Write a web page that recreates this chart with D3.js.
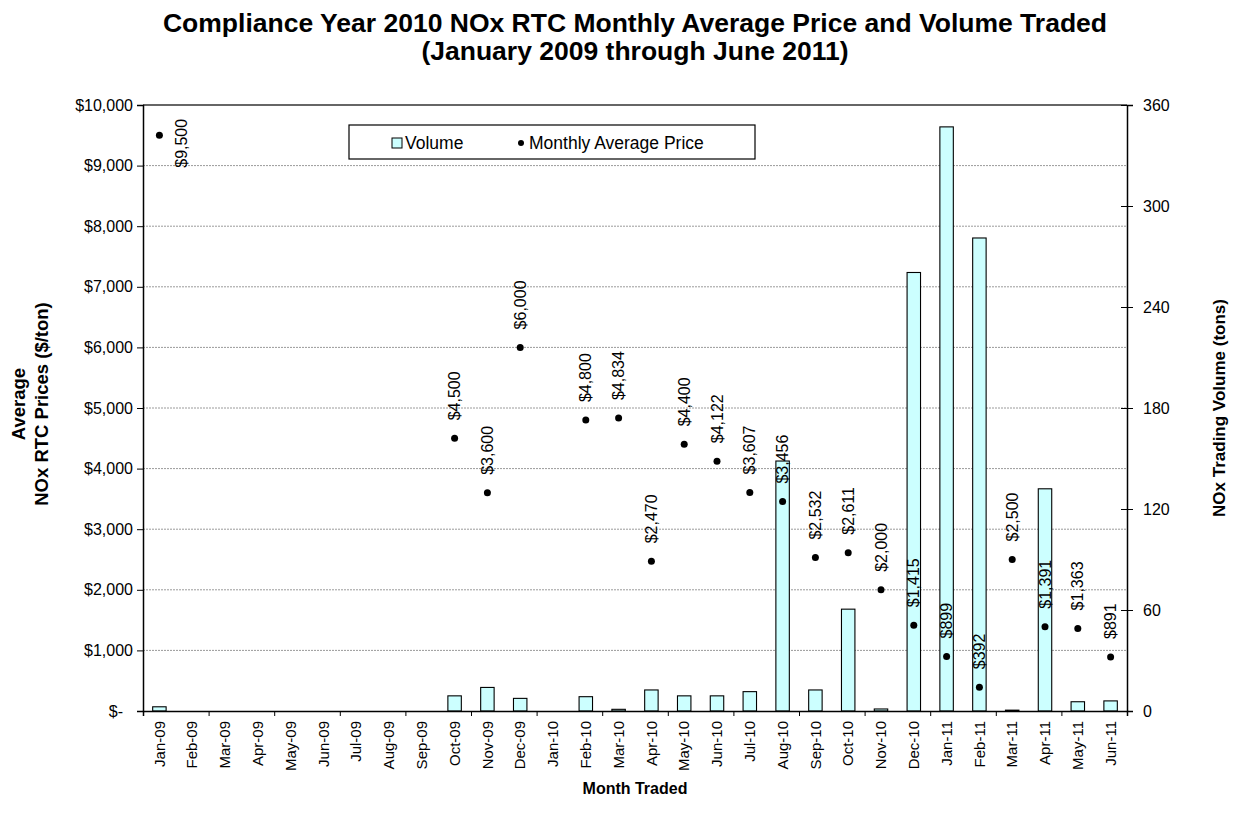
<!DOCTYPE html>
<html><head><meta charset="utf-8">
<script src="https://cdn.jsdelivr.net/npm/d3@7"></script>
<style>
html,body{margin:0;padding:0;background:#fff;}
svg{display:block;font-family:"Liberation Sans",Arial,sans-serif;}
</style></head>
<body><svg id="c" width="1239" height="826"></svg>
<script>
const months = ["Jan-09","Feb-09","Mar-09","Apr-09","May-09","Jun-09","Jul-09","Aug-09","Sep-09","Oct-09","Nov-09","Dec-09",
"Jan-10","Feb-10","Mar-10","Apr-10","May-10","Jun-10","Jul-10","Aug-10","Sep-10","Oct-10","Nov-10","Dec-10",
"Jan-11","Feb-11","Mar-11","Apr-11","May-11","Jun-11"];
const volume = [2.5,0,0,0,0,0,0,0,0,9,14,7.5,0,8.5,1,12.5,9,9,11.5,148.5,12.5,60.5,1.2,260.5,347,281,0.5,132,5.5,6];
const price = [9500,null,null,null,null,null,null,null,null,4500,3600,6000,null,4800,4834,2470,4400,4122,3607,3456,2532,2611,2000,1415,899,392,2500,1391,1363,891];
const priceTicks = [0,1000,2000,3000,4000,5000,6000,7000,8000,9000,10000];
const volumeTicks = [0,60,120,180,240,300,360];
const titleLines = ["Compliance Year 2010 NOx RTC Monthly Average Price and Volume Traded","(January 2009 through June 2011)"];
const leftTitle = ["Average","NOx RTC Prices ($/ton)"];
const rightTitle = "NOx Trading Volume (tons)";
const xTitle = "Month Traded";
const legendItems = ["Volume","Monthly Average Price"];

const svg = d3.select("#c");
const L=143, R=1127, T=105, B=711;
const x = d3.scaleBand().domain(months).range([L,R]).paddingInner(0.59).paddingOuter(0.295);
const xb = d3.scaleLinear().domain([0,months.length]).range([L,R]);
const yL = d3.scaleLinear().domain([0,10000]).range([B,T]);
const yR = d3.scaleLinear().domain([0,360]).range([B,T]);
const cx = d => x(d)+x.bandwidth()/2;

// title
svg.append("g").selectAll("text").data(titleLines).join("text")
  .attr("x",635).attr("y",(d,i)=>32+i*28).attr("text-anchor","middle")
  .attr("font-size",26.5).attr("font-weight","bold").text(d=>d);

// gridlines
svg.append("g").selectAll("line").data(priceTicks.filter(v=>v>0&&v<10000)).join("line")
  .attr("x1",L).attr("x2",R).attr("y1",d=>yL(d)).attr("y2",d=>yL(d))
  .attr("stroke","#9a9a9a").attr("stroke-width",1).attr("stroke-dasharray","2,1");
// top border
svg.append("line").attr("x1",L).attr("x2",R).attr("y1",yL(10000)).attr("y2",yL(10000))
  .attr("stroke","#333").attr("stroke-width",1.5);

// bars
svg.append("g").selectAll("rect").data(months).join("rect")
  .attr("x",d=>x(d)).attr("width",x.bandwidth())
  .attr("y",(d,i)=>yR(volume[i])).attr("height",(d,i)=>B-yR(volume[i]))
  .attr("fill","#ccffff").attr("stroke","#000").attr("stroke-width",1.1)
  .style("display",(d,i)=>volume[i]>0?null:"none");

// axes
const gL = svg.append("g").attr("transform",`translate(${L},0)`)
  .call(d3.axisLeft(yL).tickValues(priceTicks).tickSize(6).tickPadding(4)
    .tickFormat(d=>d===0?"$-":"$"+d3.format(",")(d)));
gL.selectAll("text").attr("font-size",16).attr("fill","#000").attr("font-family","Liberation Sans, Arial")
  .attr("dx",d=>d===0?-10:0);
gL.selectAll("line").attr("stroke","#000");
gL.select(".domain").attr("stroke","#000").attr("stroke-width",1.5);

const gR = svg.append("g").attr("transform",`translate(${R},0)`)
  .call(d3.axisRight(yR).tickValues(volumeTicks).tickSize(6).tickPadding(10));
gR.selectAll("text").attr("font-size",16).attr("fill","#000").attr("font-family","Liberation Sans, Arial");
gR.selectAll(".tick line").attr("x1",-6).attr("stroke","#000");
gR.select(".domain").attr("stroke","#000").attr("stroke-width",1.5);

const gB = svg.append("g").attr("transform",`translate(0,${B})`)
  .call(d3.axisBottom(xb).tickValues(d3.range(0,months.length+1,2)).tickSize(5).tickFormat(""));
gB.selectAll("line").attr("stroke","#000");
gB.select(".domain").attr("stroke","#000").attr("stroke-width",1.5);

const gX = svg.append("g").attr("transform",`translate(0,${B})`)
  .call(d3.axisBottom(x).tickSize(0).tickPadding(0));
gX.select(".domain").remove();
gX.selectAll("text").attr("font-size",15).attr("fill","#000").attr("font-family","Liberation Sans, Arial")
  .attr("transform","rotate(-90)").attr("text-anchor","end")
  .attr("x",-10).attr("y",0).attr("dy","0.35em");

// price dots
const pts = months.map((m,i)=>({m,v:price[i]})).filter(d=>d.v!=null);
svg.append("g").selectAll("circle").data(pts).join("circle")
  .attr("cx",d=>cx(d.m)).attr("cy",d=>yL(d.v)).attr("r",3.5).attr("fill","#000");

// price labels
svg.append("g").selectAll("text").data(pts).join("text")
  .attr("font-size",16).attr("fill","#000")
  .attr("transform",d=>{
    const px=cx(d.m), py=yL(d.v);
    if (py-18-50 < T) return `translate(${px+22},${py+8}) rotate(-90)`;
    return `translate(${px},${py-18}) rotate(-90)`;
  })
  .attr("text-anchor",d=> (yL(d.v)-68<T)?"middle":"start")
  .attr("dy","0.35em")
  .text(d=>"$"+d3.format(",")(d.v));

// legend
const lg = svg.append("g");
lg.append("rect").attr("x",349).attr("y",125).attr("width",406).attr("height",34)
  .attr("fill","#fff").attr("stroke","#000").attr("stroke-width",1.2);
lg.append("rect").attr("x",392).attr("y",138).attr("width",10).attr("height",10)
  .attr("fill","#ccffff").attr("stroke","#000").attr("stroke-width",1);
lg.append("text").attr("x",405).attr("y",149).attr("font-size",17.5).text(legendItems[0]);
lg.append("circle").attr("cx",521).attr("cy",143).attr("r",3).attr("fill","#000");
lg.append("text").attr("x",529).attr("y",149).attr("font-size",17.5).text(legendItems[1]);

// axis titles
svg.append("g").selectAll("text").data(leftTitle).join("text")
  .attr("transform",(d,i)=>`translate(${25+i*23},404) rotate(-90)`)
  .attr("text-anchor","middle").attr("font-size",18.5).attr("font-weight","bold").text(d=>d);
svg.append("text").attr("transform",`translate(1225,${(T+B)/2}) rotate(-90)`)
  .attr("text-anchor","middle").attr("font-size",17).attr("font-weight","bold").text(rightTitle);
svg.append("text").attr("x",635).attr("y",794).attr("text-anchor","middle")
  .attr("font-size",16).attr("font-weight","bold").text(xTitle);
</script></body></html>
